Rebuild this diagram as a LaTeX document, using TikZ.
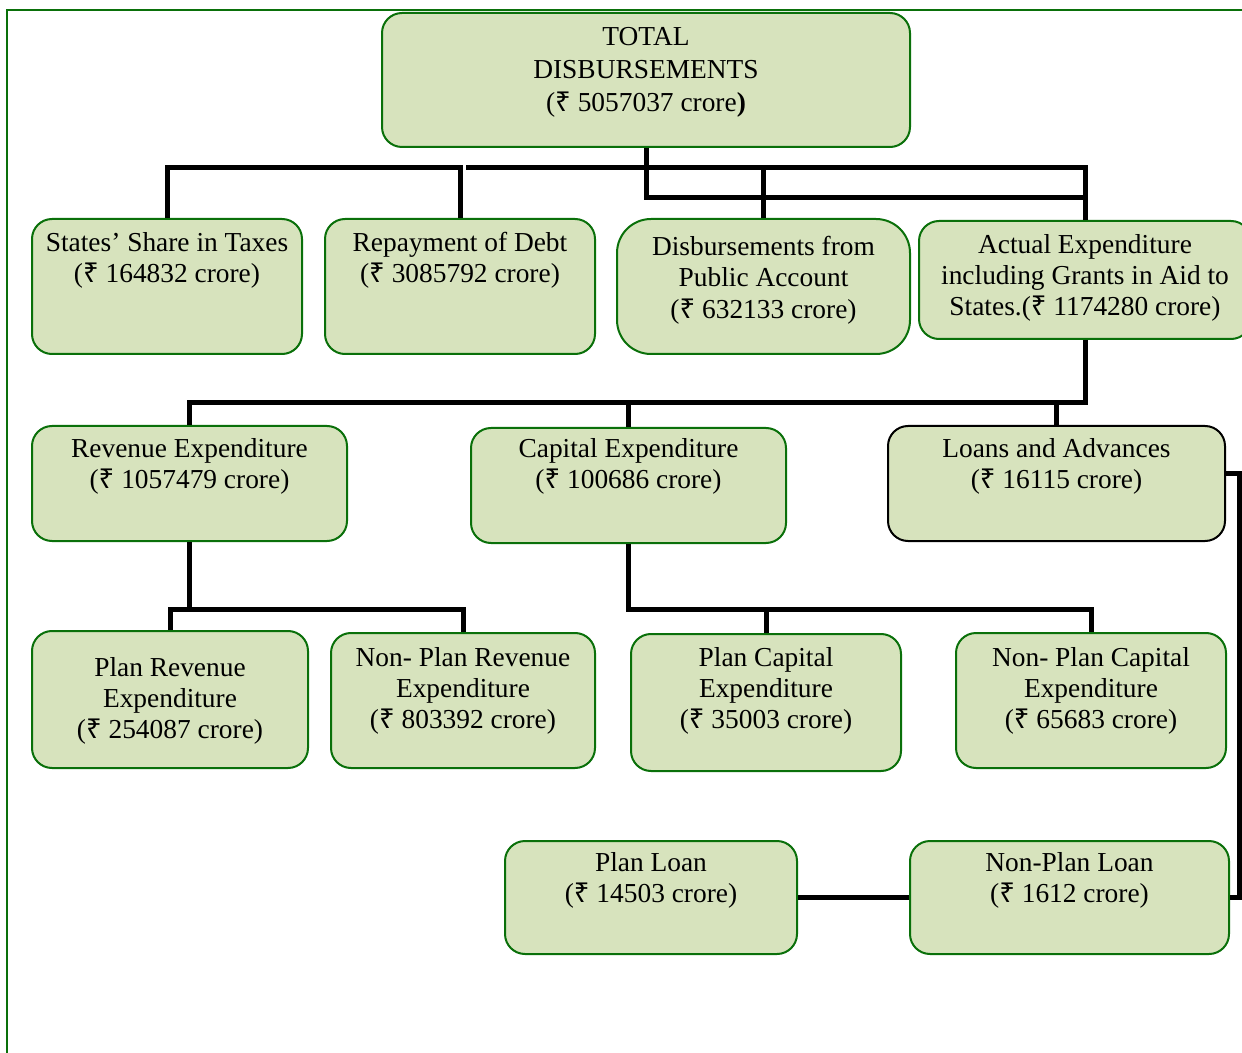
\documentclass[tikz,border=0pt]{standalone}
\usepackage{fontspec}
\setmainfont{Liberation Serif}
\newfontfamily\rupeefont{Noto Sans}
\newcommand{\rs}{{\rupeefont ₹}}
\usetikzlibrary{positioning}
\definecolor{boxgreen}{RGB}{10,112,10}
\definecolor{boxfill}{RGB}{215,227,189}
\tikzset{
  box/.style={draw=boxgreen, fill=boxfill, line width=1pt, rounded corners=10pt,
    anchor=north west, inner sep=0pt},
  txt/.style={align=center, inner sep=0pt, font=\fontsize{13.7}{15.6}\selectfont},
  conn/.style={line width=2.5pt},
}
\begin{document}
\begin{tikzpicture}[x=0.5pt, y=-0.5pt]
  \useasboundingbox (0,0) rectangle (1242,1053);
  \clip (0,0) rectangle (1242,1053);
  \draw[boxgreen, line width=1pt] (7,10) rectangle (1270,1080);

  % boxes
  \node[box, minimum width=264pt, minimum height=67pt] (total) at (381,12) {};
  \node[box, minimum width=135pt, minimum height=67.5pt] (states) at (31,218) {};
  \node[box, minimum width=135pt, minimum height=67.5pt] (repay) at (324,218) {};
  \node[box, minimum width=146.5pt, minimum height=67.5pt, rounded corners=17pt] (public) at (616,218) {};
  \node[box, minimum width=166pt, minimum height=59pt] (actual) at (918,220) {};
  \node[box, minimum width=157.5pt, minimum height=57.5pt] (revenue) at (31,425) {};
  \node[box, minimum width=157.5pt, minimum height=57.5pt] (capital) at (470,427) {};
  \node[box, minimum width=168.5pt, minimum height=57.5pt, draw=black] (loans) at (887,425) {};
  \node[box, minimum width=138pt, minimum height=68.5pt] (planrev) at (31,630) {};
  \node[box, minimum width=132pt, minimum height=67.5pt] (nonplanrev) at (330,632) {};
  \node[box, minimum width=135pt, minimum height=68.5pt] (plancap) at (630,633) {};
  \node[box, minimum width=135pt, minimum height=67.5pt] (nonplancap) at (955,632) {};
  \node[box, minimum width=146pt, minimum height=56.5pt] (planloan) at (504,840) {};
  \node[box, minimum width=159.5pt, minimum height=56.5pt] (nonplanloan) at (909,840) {};

  % texts
  \node[txt, font=\fontsize{13.7}{16.5}\selectfont, below=7.5pt of total.north] (totalT)
    {TOTAL\\DISBURSEMENTS\\(\rs{} 5057037 crore\textbf{)}};
  \node[txt, below=7pt of states.north] (statesT) {States’ Share in Taxes\\(\rs{} 164832 crore)};
  \node[txt, below=7pt of repay.north] (repayT) {Repayment of Debt\\(\rs{} 3085792 crore)};
  \node[txt, below=9pt of public.north] (publicT) {Disbursements from\\Public Account\\(\rs{} 632133 crore)};
  \node[txt, below=7pt of actual.north] (actualT)
    {Actual Expenditure\\including Grants in Aid to\\States.(\rs{} 1174280 crore)};
  \node[txt, below=6.5pt of revenue.north] (revenueT) {Revenue Expenditure\\(\rs{} 1057479 crore)};
  \node[txt, below=5.5pt of capital.north] (capitalT) {Capital Expenditure\\(\rs{} 100686 crore)};
  \node[txt, below=6.5pt of loans.north] (loansT) {Loans and Advances\\(\rs{} 16115 crore)};
  \node[txt, below=13.5pt of planrev.north] (planrevT) {Plan Revenue\\Expenditure\\(\rs{} 254087 crore)};
  \node[txt, below=7.5pt of nonplanrev.north] (nonplanrevT) {Non- Plan Revenue\\Expenditure\\(\rs{} 803392 crore)};
  \node[txt, below=7pt of plancap.north] (plancapT) {Plan Capital\\Expenditure\\(\rs{} 35003 crore)};
  \node[txt, below=7.5pt of nonplancap.north] (nonplancapT) {Non- Plan Capital\\Expenditure\\(\rs{} 65683 crore)};
  \node[txt, below=6pt of planloan.north] (planloanT) {Plan Loan\\(\rs{} 14503 crore)};
  \node[txt, below=6pt of nonplanloan.north] (nonplanloanT) {Non-Plan Loan\\(\rs{} 1612 crore)};

  % connectors
  \coordinate (busA) at (466,168);
  \coordinate (busB) at (0,403);
  \coordinate (busC) at (0,609);
  \begin{scope}[conn]
    \draw (states.north) -- (states.north |- busA) -| (repay.north);
    \draw (busA) -| (actual.north);
    \draw (total.south) -- ++(0,50) -| (actual.north);
    \draw (public.north) -- (public.north |- busA);
    \draw (actual.south) |- (revenue.north |- busB) -- (revenue.north);
    \draw (capital.north) -- (capital.north |- busB);
    \draw (loans.north) -- (loans.north |- busB);
    \draw (revenue.south) -- (revenue.south |- busC);
    \draw (planrev.north) |- (nonplanrev.north |- busC) -- (nonplanrev.north);
    \draw (capital.south) |- (nonplancap.north |- busC) -- (nonplancap.north);
    \draw (plancap.north) -- (plancap.north |- busC);
    \draw ([yshift=5pt]loans.east) -- ++(13,0) |- (nonplanloan.east);
    \draw (planloan) -- (nonplanloan);
  \end{scope}
\end{tikzpicture}
\end{document}
